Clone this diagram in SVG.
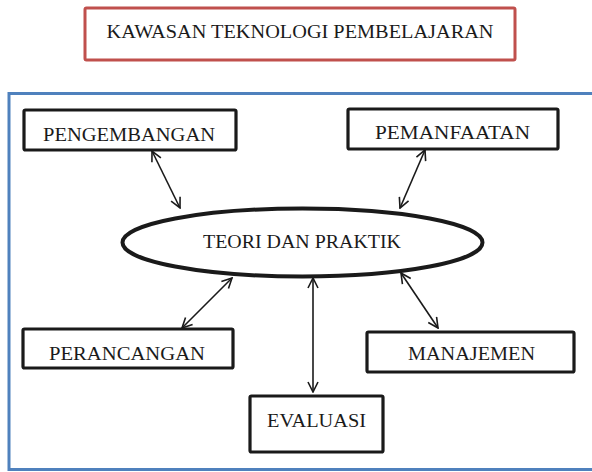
<svg xmlns="http://www.w3.org/2000/svg" width="592" height="472" viewBox="0 0 592 472">
  <style>
    .lbl { font-family: "Liberation Serif", "DejaVu Serif", serif; font-size: 18.5px; fill: #1a1a1a; text-anchor: middle; }
    .box { fill: #ffffff; stroke: #1a1a1a; stroke-width: 3.2; }
    .link { stroke: #1a1a1a; stroke-width: 1.6; fill: none; marker-start: url(#head); marker-end: url(#head); }
  </style>
  <defs>
    <marker id="head" viewBox="0 0 12 12" refX="11" refY="6" markerWidth="12" markerHeight="12" markerUnits="userSpaceOnUse" orient="auto-start-reverse">
      <path d="M1,1 L11,6 L1,11" fill="none" stroke="#1a1a1a" stroke-width="1.6"/>
    </marker>
  </defs>

  <rect width="592" height="472" fill="#ffffff"/>

  <!-- title -->
  <g id="title">
    <rect x="85" y="8" width="430" height="52" rx="1.5" fill="#ffffff" stroke="#c0504d" stroke-width="3"/>
    <text class="lbl" x="300" y="37.5" textLength="387" lengthAdjust="spacingAndGlyphs">KAWASAN TEKNOLOGI PEMBELAJARAN</text>
  </g>

  <!-- surrounding frame -->
  <g id="frame">
    <rect x="9" y="93.5" width="590" height="376" fill="none" stroke="#4f81bd" stroke-width="3"/>
  </g>

  <!-- connectors -->
  <g id="connectors">
    <line class="link" x1="152" y1="151" x2="180" y2="208"/>
    <line class="link" x1="425" y1="150" x2="400" y2="208"/>
    <line class="link" x1="232" y1="278" x2="182" y2="328"/>
    <line class="link" x1="313" y1="278" x2="313" y2="392"/>
    <line class="link" x1="401" y1="273" x2="438" y2="328"/>
  </g>

  <g id="teori">
    <ellipse cx="302.5" cy="242.5" rx="180" ry="34" fill="#ffffff" stroke="#1a1a1a" stroke-width="4"/>
    <text class="lbl" x="302" y="247.5" textLength="198" lengthAdjust="spacingAndGlyphs">TEORI DAN PRAKTIK</text>
  </g>

  <g id="pengembangan">
    <rect class="box" x="24" y="110" width="212" height="40" rx="1.5"/>
    <text class="lbl" x="129" y="140.5" textLength="172" lengthAdjust="spacingAndGlyphs">PENGEMBANGAN</text>
  </g>

  <g id="pemanfaatan">
    <rect class="box" x="348" y="109" width="210" height="40" rx="1.5"/>
    <text class="lbl" x="452.5" y="138.5" textLength="155" lengthAdjust="spacingAndGlyphs">PEMANFAATAN</text>
  </g>

  <g id="perancangan">
    <rect class="box" x="23" y="329" width="210" height="39" rx="1.5"/>
    <text class="lbl" x="127" y="359.5" textLength="156" lengthAdjust="spacingAndGlyphs">PERANCANGAN</text>
  </g>

  <g id="evaluasi">
    <rect class="box" x="250" y="396" width="133" height="56" rx="1.5"/>
    <text class="lbl" x="316.5" y="426.5" textLength="99" lengthAdjust="spacingAndGlyphs">EVALUASI</text>
  </g>

  <g id="manajemen">
    <rect class="box" x="367" y="332" width="207" height="40" rx="1.5"/>
    <text class="lbl" x="471.5" y="359.5" textLength="127" lengthAdjust="spacingAndGlyphs">MANAJEMEN</text>
  </g>
</svg>
